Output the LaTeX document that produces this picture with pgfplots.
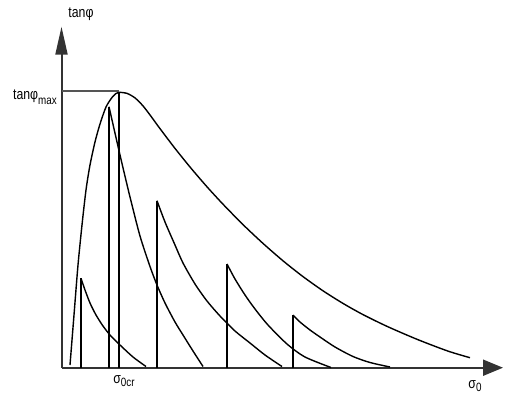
\documentclass[border=0pt]{standalone}
\usepackage{pgfplots}
\pgfplotsset{compat=1.18}
\usepackage{graphicx}
\usepackage{fontspec}
\setmainfont{Liberation Sans}
\usetikzlibrary{arrows.meta}
\definecolor{axgray}{HTML}{333333}
\definecolor{hgray}{HTML}{555555}
\newcommand\lab[1]{\scalebox{0.82}[1]{#1}}
\begin{document}
\begin{tikzpicture}
\path[use as bounding box] (-61.5pt,-29.3pt) rectangle (443.5pt,367.7pt);
\begin{axis}[
  at={(0pt,0pt)}, anchor=origin,
  x=1pt, y=1pt,
  xmin=0, xmax=441.5, ymin=0, ymax=341,
  enlargelimits=false,
  axis lines=left,
  ticks=none,
  clip=false,
  x axis line style={axgray, line width=2pt, -{Triangle[length=20pt,width=16pt]}},
  y axis line style={axgray, line width=2pt, -{Triangle[length=28pt,width=12pt]}},
  cv/.style={black, line width=1.4pt, no markers, line join=round},
  sm/.style={cv, smooth, tension=0.45},
]
% envelope
\addplot[sm] coordinates {
(8.5,2.7) (12.5,52.7) (16.5,102.7) (20.5,142.7) (24.5,177.7) (28.5,202.7)
(33.5,225.7) (38.5,243.7) (44.5,260.7) (50.5,270.2) (54.5,274.2) (57.5,275.4)
(65.5,274.3) (73.5,269.8) (81.5,261.8) (89.5,251.4) (97.5,240.4)
(113.5,219.3) (129.5,199.5) (145.5,180.9) (161.5,163.5) (181.5,143.1)
(201.5,124.3) (221.5,106.9) (241.5,91.1) (261.5,76.9) (281.5,64.3)
(301.5,53.1) (326.5,40.9) (356.5,28.0) (386.5,16.6) (408.5,10.0)};
% sigma_0cr vertical and horizontal line
\addplot[cv] coordinates {(57.5,0) (57.5,275.4)};
\addplot[hgray, line width=1.4pt, no markers] coordinates {(0,276.7) (57,276.7)};
% spike 1
\addplot[cv] coordinates {(19.5,0) (19.5,89.4)};
\addplot[sm] coordinates {(19.5,89.4) (23.5,77.7) (28.5,64.7) (34.5,52.7) (41.5,41.7) (48.5,32.7) (58.5,22.7) (71.5,10.7) (84.5,1.2)};
% spike 2
\addplot[cv] coordinates {(47.5,0) (47.5,261)};
\addplot[sm] coordinates {(47.5,261) (58.5,212.7) (68.5,170.7) (78.5,131.7) (88.5,101.2) (95.5,82.7) (103.5,64.7) (113.5,45.7) (121.5,32.7) (131.5,16.7) (141.5,1.2)};
% spike 3
\addplot[cv] coordinates {(95.5,0) (95.5,167)};
\addplot[sm] coordinates {(95.5,167) (103.5,145.7) (113.5,122.7) (121.5,104.7) (133.5,83.7) (145.5,66.7) (158.5,51.7) (173.5,36.7) (188.5,24.7) (203.5,12.7) (220.5,1.2)};
% spike 4
\addplot[cv] coordinates {(165.5,0) (165.5,103.7)};
\addplot[sm] coordinates {(165.5,103.7) (173.5,88.7) (183.5,72.7) (193.5,58.7) (206.5,42.7) (225.5,23.7) (243.5,10.7) (269.5,0.2)};
% spike 5
\addplot[cv] coordinates {(231.5,0) (231.5,52.7)};
\addplot[sm] coordinates {(231.5,52.7) (238.5,45.7) (248.5,37.7) (258.5,30.7) (273.5,20.7) (291.5,11.2) (308.5,5.2) (328.5,0.7)};
% labels
\node[font=\fontsize{15}{15}\selectfont, anchor=center] at (axis cs:19.5,353.7) {\lab{tanφ}};
\node[font=\fontsize{15}{15}\selectfont, anchor=base east, inner sep=0pt] at (axis cs:-4.5,268.7) {\lab{tanφ\raisebox{-5pt}{\fontsize{12}{12}\selectfont max}}};
\node[font=\fontsize{15}{15}\selectfont, anchor=center] at (axis cs:62.5,-13.3) {\lab{σ\raisebox{-3.5pt}{\fontsize{12}{12}\selectfont 0cr}}};
\node[font=\fontsize{15}{15}\selectfont, anchor=center] at (axis cs:413.5,-18.3) {\lab{σ\raisebox{-3.5pt}{\fontsize{12}{12}\selectfont 0}}};
\end{axis}
\end{tikzpicture}
\end{document}
